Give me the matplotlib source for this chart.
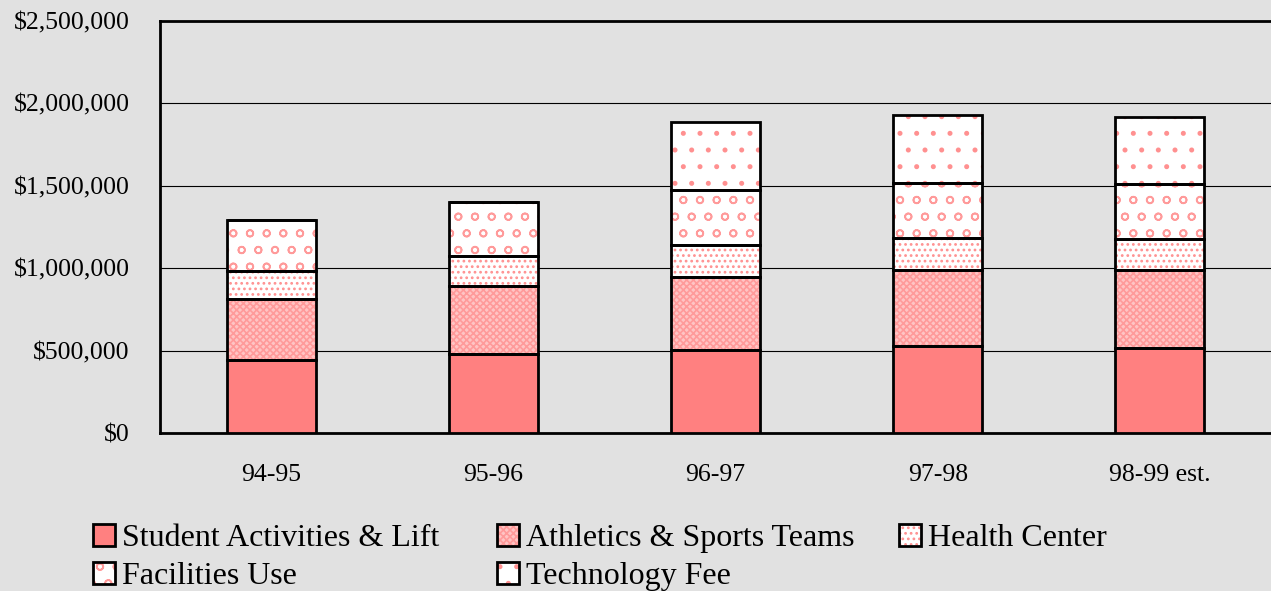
import matplotlib.pyplot as plt
import matplotlib.patches as mpatches
import matplotlib.ticker as mticker
import numpy as np

plt.rcParams['font.family'] = ['Liberation Serif', 'DejaVu Serif']
plt.rcParams['hatch.linewidth'] = 1.2

years = ['94-95', '95-96', '96-97', '97-98', '98-99 est.']
student = [443000, 479000, 504000, 528000, 516000]
athletics = [370000, 413000, 443000, 461000, 473000]
health = [170000, 182000, 194000, 194000, 188000]
facilities = [309000, 328000, 334000, 334000, 334000]
technology = [0, 0, 412000, 413000, 406000]

labels = ['Student Activities & Lift', 'Athletics & Sports Teams', 'Health Center',
          'Facilities Use', 'Technology Fee']
series = [student, athletics, health, facilities, technology]
faces = ['#ff8080', '#ffc4c4', 'white', 'white', 'white']
hatches = [None, 'xxxxx', '...', 'o', '.']
hatch_cols = ['#ff8080', '#ff9a9a', '#ff9090', '#ff9a9a', '#ff9090']

bg = '#e1e1e1'
W, H = 1271, 591
fig = plt.figure(figsize=(W / 100, H / 100), dpi=100, facecolor=bg)
ax = fig.add_axes([160 / W, 158 / H, 1111 / W, 412 / H])
ax.set_facecolor(bg)

x = np.arange(len(years))
w = 0.4
bottom = np.zeros(len(years))
for vals, fc, h, hc in zip(series, faces, hatches, hatch_cols):
    vals = np.array(vals)
    # fill + hatch layer, then outline on top
    ax.bar(x, vals, w, bottom=bottom, color=fc, edgecolor=hc, hatch=h, linewidth=0, zorder=3)
    ax.bar(x, vals, w, bottom=bottom, fill=False, edgecolor='black', linewidth=2, zorder=4)
    bottom += vals

ax.set_xlim(-0.5, 4.5)
ax.set_ylim(0, 2500000)
ax.yaxis.set_major_locator(mticker.MultipleLocator(500000))
ax.yaxis.set_major_formatter(mticker.FuncFormatter(lambda v, p: '${:,.0f}'.format(v)))
ax.grid(axis='y', color='black', linewidth=0.8, zorder=1)
ax.set_xticks(x)
ax.set_xticklabels(years)
ax.tick_params(axis='both', length=0, labelsize=18.5)
ax.tick_params(axis='y', pad=22)
ax.tick_params(axis='x', pad=22)
for s in ['left', 'bottom', 'top']:
    ax.spines[s].set_linewidth(2)
ax.spines['right'].set_visible(False)

# legend laid out by hand: (swatch left px, text baseline px)
leg_pos = [(93, 546), (497, 546), (899, 546), (93, 584), (497, 584)]
for (px, py), lab, fc, h, hc in zip(leg_pos, labels, faces, hatches, hatch_cols):
    x0, y0 = px / W, 1 - py / H
    fig.add_artist(mpatches.Rectangle((x0, y0), 22 / W, 22 / H, transform=fig.transFigure,
                                      facecolor=fc, edgecolor=hc, hatch=h, linewidth=0))
    fig.add_artist(mpatches.Rectangle((x0, y0), 22 / W, 22 / H, transform=fig.transFigure,
                                      fill=False, edgecolor='black', linewidth=2))
    fig.text(x0 + 29 / W, y0, lab, fontsize=23, va='baseline', ha='left')

fig.savefig('out.png', dpi=100, facecolor=bg)
